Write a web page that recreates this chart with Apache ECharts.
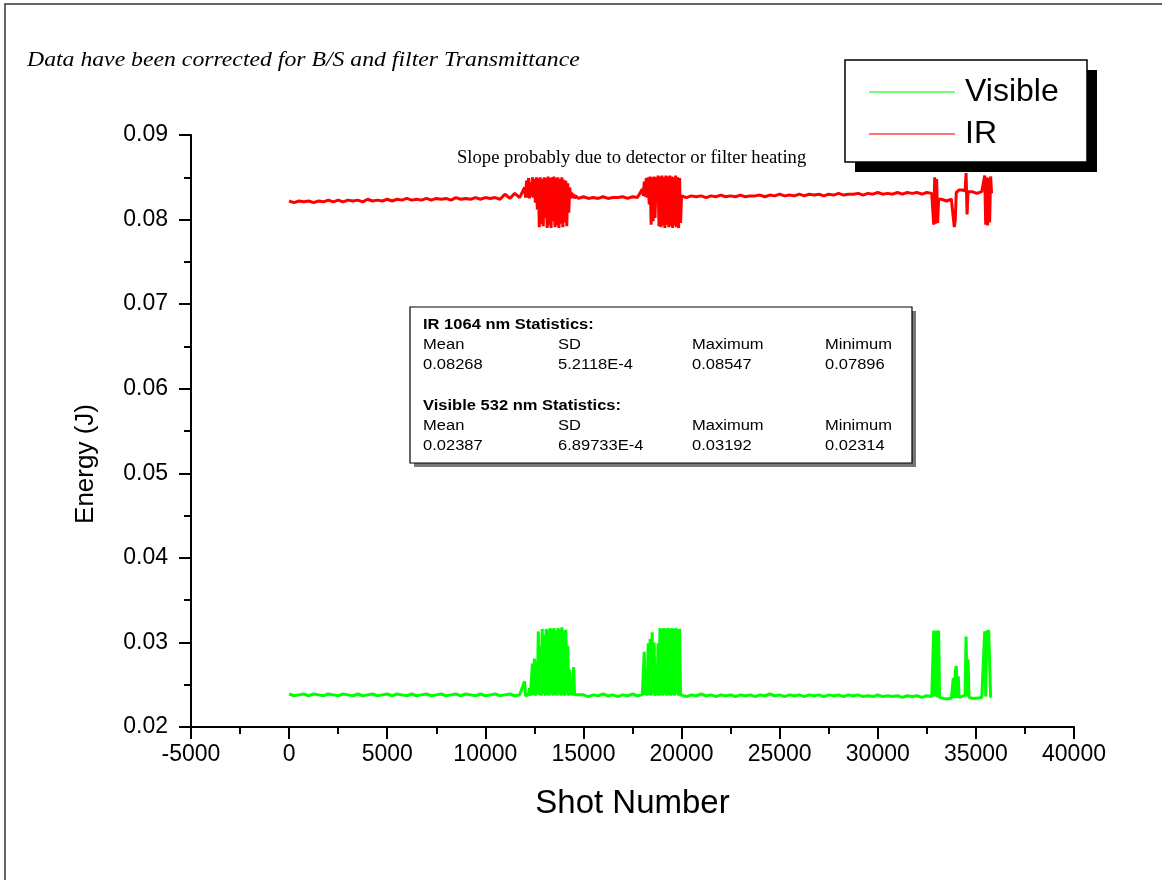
<!DOCTYPE html>
<html>
<head>
<meta charset="utf-8">
<script src="https://cdn.jsdelivr.net/npm/echarts@6/dist/echarts.min.js"></script>
<style>
html,body{margin:0;padding:0;background:#fff;}
#chart{width:1162px;height:880px;}
</style>
</head>
<body>
<div id="chart"></div>
<script>
// ---- data ----
const shots = [
  // baseline 0..11750
  0,250,500,750,1000,1250,1500,1750,2000,2250,
  2500,2750,3000,3250,3500,3750,4000,4250,4500,4750,
  5000,5250,5500,5750,6000,6250,6500,6750,7000,7250,
  7500,7750,8000,8250,8500,8750,9000,9250,9500,9750,
  10000,10250,10500,10750,11000,11250,11500,11750,
  // burst 1
  12000,12050,12100,12150,12200,12250,12300,12350,12400,12450,
  12500,12550,12600,12650,12700,12750,12800,12850,12900,12950,
  13000,13050,13100,13150,13200,13250,13300,13350,13400,13450,
  13500,13550,13600,13650,13700,13750,13800,13850,13900,13950,
  14000,14050,14100,14150,14200,14250,14300,14350,14400,14450,
  14500,14550,14600,14650,14700,14750,
  // baseline
  15000,15250,15500,15750,16000,16250,16500,16750,17000,17250,17500,17750,
  // burst 2
  18000,18050,18100,18150,18200,18250,18300,18350,18400,18450,
  18500,18550,18600,18650,18700,18750,18800,18850,18900,18950,
  19000,19050,19100,19150,19200,19250,19300,19350,19400,19450,
  19500,19550,19600,19650,19700,19750,19800,19850,19900,19950,
  // baseline
  20000,20250,20500,20750,21000,21250,21500,21750,22000,22250,
  22500,22750,23000,23250,23500,23750,24000,24250,24500,24750,
  25000,25250,25500,25750,26000,26250,26500,26750,27000,27250,
  27500,27750,28000,28250,28500,28750,29000,29250,29500,29750,
  30000,30250,30500,30750,31000,31250,31500,31750,32000,32250,
  32500,32750,
  // spikes near the end
  32800,32850,32900,32950,33000,33050,33100,33150,
  33250,33500,33750,
  33850,33900,33950,34000,34050,34100,34150,34200,
  34300,
  34450,34500,34550,34600,34650,
  34800,35050,35300,
  35400,35450,35500,35550,35600,35650,35700,35750,35800
];

const irEnergy = [
  0.0822,0.0820,0.0822,0.0821,0.0822,0.0820,0.0822,0.0821,0.0823,0.0821,
  0.0823,0.0821,0.0823,0.0822,0.0823,0.0821,0.0824,0.0822,0.0823,0.0822,
  0.0824,0.0822,0.0824,0.0823,0.0825,0.0823,0.0824,0.0823,0.0825,0.0823,
  0.0825,0.0824,0.0825,0.0823,0.0826,0.0824,0.0825,0.0824,0.0826,0.0824,
  0.0826,0.0825,0.0826,0.0824,0.0830,0.0825,0.0831,0.0826,
  // burst 1
  0.0838,0.0826,0.0846,0.0826,0.0849,0.0825,0.0844,0.0827,0.0850,0.0826,
  0.0848,0.0820,0.0850,0.0812,0.0849,0.0791,0.0850,0.0795,0.0848,0.0792,
  0.0850,0.0802,0.0849,0.0790,0.0851,0.0793,0.0849,0.0790,0.0850,0.0798,
  0.0851,0.0791,0.0849,0.0793,0.0850,0.0790,0.0848,0.0795,0.0850,0.0791,
  0.0847,0.0797,0.0846,0.0792,0.0843,0.0808,0.0838,0.0825,0.0832,0.0826,
  0.0830,0.0825,0.0828,0.0826,0.0827,0.0825,
  // baseline
  0.0827,0.0825,0.0826,0.0825,0.0827,0.0825,0.0826,0.0826,0.0827,0.0825,0.0827,0.0826,
  // burst 2
  0.0836,0.0828,0.0845,0.0827,0.0849,0.0826,0.0850,0.0818,0.0851,0.0794,
  0.0850,0.0798,0.0851,0.0802,0.0850,0.0824,0.0852,0.0792,0.0851,0.0791,
  0.0852,0.0793,0.0850,0.0790,0.0852,0.0794,0.0851,0.0791,0.0852,0.0792,
  0.0851,0.0790,0.0850,0.0793,0.0852,0.0791,0.0850,0.0790,0.0849,0.0796,
  // baseline
  0.0828,0.0826,0.0828,0.0827,0.0828,0.0826,0.0828,0.0827,0.0829,0.0827,
  0.0828,0.0827,0.0829,0.0827,0.0828,0.0828,0.0829,0.0827,0.0829,0.0828,
  0.0830,0.0828,0.0829,0.0828,0.0830,0.0828,0.0830,0.0829,0.0830,0.0828,
  0.0830,0.0829,0.0831,0.0829,0.0830,0.0830,0.0831,0.0829,0.0831,0.0830,
  0.0832,0.0830,0.0831,0.0830,0.0832,0.0830,0.0832,0.0831,0.0832,0.0830,
  0.0832,0.0831,
  // spikes
  0.0832,0.0794,0.0850,0.0795,0.0848,0.0796,0.0824,0.0822,
  0.0824,0.0822,0.0824,
  0.0823,0.0791,0.0800,0.0832,0.0834,0.0833,0.0835,0.0834,
  0.0835,
  0.0834,0.0855,0.0806,0.0833,0.0832,
  0.0833,0.0831,0.0833,
  0.0832,0.0852,0.0794,0.0850,0.0793,0.0849,0.0797,0.0851,0.0831
];

const visEnergy = [
  0.0239,0.0237,0.0238,0.0239,0.0237,0.0239,0.0238,0.0237,0.0239,0.0238,
  0.0237,0.0239,0.0238,0.0237,0.0239,0.0237,0.0238,0.0239,0.0237,0.0238,
  0.0239,0.0237,0.0239,0.0238,0.0237,0.0239,0.0237,0.0238,0.0239,0.0237,
  0.0238,0.0239,0.0237,0.0238,0.0239,0.0237,0.0239,0.0238,0.0237,0.0239,
  0.0237,0.0238,0.0239,0.0237,0.0238,0.0239,0.0237,0.0238,
  // burst 1
  0.0254,0.0237,0.0238,0.0239,0.0238,0.0246,0.0237,0.0238,0.0275,0.0238,
  0.0281,0.0237,0.0278,0.0239,0.0313,0.0238,0.0296,0.0237,0.0316,0.0239,
  0.0309,0.0237,0.0316,0.0238,0.0315,0.0237,0.0317,0.0239,0.0316,0.0237,
  0.0317,0.0238,0.0314,0.0237,0.0317,0.0239,0.0316,0.0237,0.0318,0.0238,
  0.0314,0.0237,0.0315,0.0239,0.0296,0.0237,0.0268,0.0238,0.0255,0.0237,
  0.0271,0.0238,0.0237,0.0239,0.0238,0.0237,
  // baseline
  0.0238,0.0236,0.0238,0.0237,0.0239,0.0237,0.0238,0.0236,0.0238,0.0237,0.0239,0.0237,
  // burst 2
  0.0238,0.0237,0.0289,0.0238,0.0263,0.0237,0.0299,0.0238,0.0304,0.0237,
  0.0312,0.0239,0.0300,0.0237,0.0247,0.0238,0.0299,0.0237,0.0317,0.0238,
  0.0316,0.0237,0.0317,0.0239,0.0316,0.0237,0.0317,0.0238,0.0316,0.0237,
  0.0317,0.0238,0.0316,0.0237,0.0317,0.0239,0.0316,0.0237,0.0316,0.0238,
  // baseline
  0.0238,0.0236,0.0238,0.0237,0.0239,0.0237,0.0238,0.0236,0.0238,0.0237,
  0.0238,0.0236,0.0238,0.0237,0.0238,0.0236,0.0238,0.0237,0.0239,0.0237,
  0.0238,0.0236,0.0238,0.0237,0.0238,0.0236,0.0238,0.0237,0.0238,0.0236,
  0.0238,0.0237,0.0238,0.0236,0.0238,0.0237,0.0238,0.0236,0.0237,0.0236,
  0.0238,0.0236,0.0237,0.0236,0.0237,0.0235,0.0237,0.0236,0.0237,0.0235,
  0.0237,0.0236,
  // spikes
  0.0236,0.0314,0.0236,0.0314,0.0313,0.0235,0.0314,0.0235,
  0.0234,0.0233,0.0234,
  0.0258,0.0234,0.0266,0.0272,0.0234,0.0260,0.0235,0.0234,
  0.0236,
  0.0238,0.0307,0.0236,0.0280,0.0235,
  0.0234,0.0234,0.0235,
  0.0235,0.0313,0.0236,0.0314,0.0290,0.0315,0.0313,0.0236,0.0235
];

const seriesNames = ['Visible', 'IR'];
const xTicks = {min: -5000, max: 40000, step: 5000};
const yTicks = {min: 0.02, max: 0.09, step: 0.01};

const statsTitleIR = 'IR 1064 nm Statistics:';
const statsTitleVis = 'Visible 532 nm Statistics:';
const statsHeads = ['Mean', 'SD', 'Maximum', 'Minimum'];
const statsIR = ['0.08268', '5.2118E-4', '0.08547', '0.07896'];
const statsVis = ['0.02387', '6.89733E-4', '0.03192', '0.02314'];

const noteTop = 'Data have been corrected for B/S and filter Transmittance';
const noteSlope = 'Slope probably due to detector or filter heating';

// ---- chart ----
const chart = echarts.init(document.getElementById('chart'), null, {renderer: 'canvas'});

const visData = shots.map((s, i) => [s, visEnergy[i]]);
const irData = shots.map((s, i) => [s, irEnergy[i]]);

const SANS = '"Liberation Sans", Arial, sans-serif';
const SERIF = '"Liberation Serif", "Times New Roman", serif';

function txt(x, y, text, font, sx) {
  return {type: 'text', x: x, y: y, scaleX: sx || 1, z: 11,
    style: {text: text, font: font, fill: '#000', textAlign: 'left', textVerticalAlign: 'middle',
            align: 'left', verticalAlign: 'middle'}};
}

const colX = [423, 558, 692, 825];
const SX = 1.18;
const statTexts = [];
statTexts.push(txt(colX[0], 325, statsTitleIR, 'bold 14px ' + SANS, SX));
statsHeads.forEach((h, i) => statTexts.push(txt(colX[i], 345, h, '14px ' + SANS, SX)));
statsIR.forEach((h, i) => statTexts.push(txt(colX[i], 365, h, '14px ' + SANS, SX)));
statTexts.push(txt(colX[0], 406, statsTitleVis, 'bold 14px ' + SANS, SX));
statsHeads.forEach((h, i) => statTexts.push(txt(colX[i], 426, h, '14px ' + SANS, SX)));
statsVis.forEach((h, i) => statTexts.push(txt(colX[i], 446, h, '14px ' + SANS, SX)));

const option = {
  backgroundColor: '#fff',
  animation: false,
  grid: {left: 191, right: 88, top: 135, bottom: 153, containLabel: false},
  legend: {
    orient: 'vertical',
    left: 845, top: 62,
    padding: [14, 25, 14, 24],
    itemGap: 10,
    itemWidth: 86, itemHeight: 2,
    icon: 'rect',
    backgroundColor: 'transparent',
    borderWidth: 0,
    textStyle: {fontFamily: SANS, fontSize: 32, color: '#000', lineHeight: 32, padding: [0, 0, 0, 5]},
    itemStyle: {opacity: 0.55},
    data: seriesNames,
    z: 12
  },
  xAxis: {
    type: 'value',
    min: xTicks.min, max: xTicks.max, interval: xTicks.step,
    name: 'Shot Number', nameLocation: 'middle', nameGap: 60,
    nameTextStyle: {fontFamily: SANS, fontSize: 33, color: '#000'},
    axisLine: {show: true, onZero: false, lineStyle: {color: '#000', width: 2}},
    axisTick: {show: true, inside: false, length: 12, lineStyle: {color: '#000', width: 2}},
    minorTick: {show: true, splitNumber: 2, length: 7, lineStyle: {color: '#000', width: 2}},
    axisLabel: {fontFamily: SANS, fontSize: 23, color: '#000', margin: 16,
      formatter: v => String(v)},
    splitLine: {show: false}
  },
  yAxis: {
    type: 'value',
    min: yTicks.min, max: yTicks.max, interval: yTicks.step,
    name: 'Energy (J)', nameLocation: 'middle', nameGap: 92,
    nameTextStyle: {fontFamily: SANS, fontSize: 26, color: '#000', padding: [0, 66, 0, 0]},
    axisLine: {show: true, onZero: false, lineStyle: {color: '#000', width: 2}},
    axisTick: {show: true, inside: false, length: 12, lineStyle: {color: '#000', width: 2}},
    minorTick: {show: true, splitNumber: 2, length: 7, lineStyle: {color: '#000', width: 2}},
    axisLabel: {fontFamily: SANS, fontSize: 23, color: '#000', margin: 23,
      formatter: v => v.toFixed(2)},
    splitLine: {show: false}
  },
  series: [
    {name: 'Visible', type: 'line', data: visData, showSymbol: false, sampling: 'none',
     color: '#00ff00', lineStyle: {color: '#00ff00', width: 3}},
    {name: 'IR', type: 'line', data: irData, showSymbol: false, sampling: 'none',
     color: '#ff0000', lineStyle: {color: '#ff0000', width: 3}}
  ],
  graphic: [
    {type: 'rect', shape: {x: 5, y: 4, width: 1300, height: 1000}, style: {fill: 'none', stroke: '#333', lineWidth: 1.5}, z: 0},
    txt(27, 60, noteTop, 'italic 21px ' + SERIF, 1.13),
    txt(457, 158, noteSlope, '18px ' + SERIF, 1.035),
    // legend frame
    {type: 'rect', shape: {x: 855, y: 70, width: 242, height: 102}, style: {fill: '#000'}, z: 9},
    {type: 'rect', shape: {x: 845, y: 60, width: 242, height: 102}, style: {fill: '#fff', stroke: '#000', lineWidth: 1.5}, z: 10},
    // statistics box
    {type: 'rect', shape: {x: 414, y: 311, width: 502, height: 156}, style: {fill: '#777'}, z: 9},
    {type: 'rect', shape: {x: 410, y: 307, width: 502, height: 156}, style: {fill: '#fff', stroke: '#000', lineWidth: 1.2}, z: 10},
    ...statTexts
  ]
};
chart.setOption(option);
</script>
</body>
</html>
